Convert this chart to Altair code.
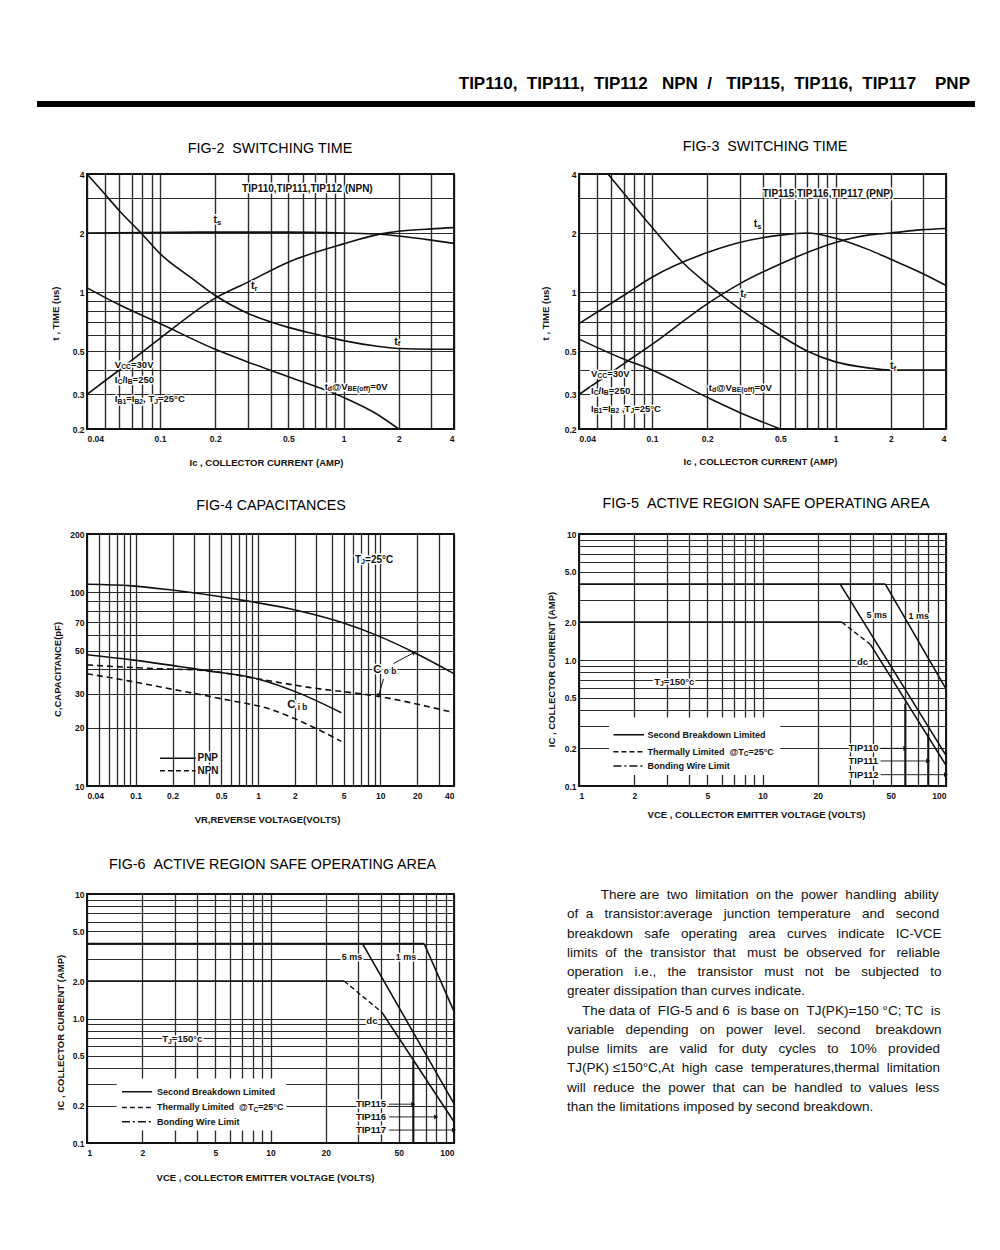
import altair as alt
import pandas as pd

FONT = "Liberation Sans"
INK = "#111111"
GRID = "#2a2a2a"
NB = "\u00a0"
ZW = "\u200b"
SUB = 0.72

W = 367
H1, H2, H3 = 255, 252, 249

# ---------------- texts ----------------
HEADER_TEXT = ("TIP110," + NB * 2 + "TIP111," + NB * 2 + "TIP112" + NB * 3 + "NPN" + NB * 2 + "/" + NB * 3 +
               "TIP115," + NB * 2 + "TIP116," + NB * 2 + "TIP117" + NB * 4 + "PNP")
F2_TITLE = "FIG-2" + NB * 2 + "SWITCHING" + NB + "TIME"
F3_TITLE = "FIG-3" + NB * 2 + "SWITCHING" + NB + "TIME"
F4_TITLE = "FIG-4 CAPACITANCES"
F5_TITLE = "FIG-5" + NB * 2 + "ACTIVE REGION SAFE OPERATING AREA"
F6_TITLE = "FIG-6" + NB * 2 + "ACTIVE REGION SAFE OPERATING AREA"

PARA = [
    "There are two limitation on the power handling ability",
    "of a transistor:average junction temperature and second",
    "breakdown safe operating area curves indicate IC-VCE",
    "limits of the transistor that must be observed for reliable",
    "operation i.e., the transistor must not be subjected to",
    "greater dissipation than curves indicate.",
    "The data of FIG-5 and 6 is base on TJ(PK)=150 °C; TC is",
    "variable depending on power level. second breakdown",
    "pulse limits are valid for duty cycles to 10% provided",
    "TJ(PK) ≤150°C,At high case temperatures,thermal limitation",
    "will reduce the power that can be handled to values less",
    "than the limitations imposed by second breakdown.",
]
PARA_INDENT = [9, 0, 0, 0, 0, 0, 4, 0, 0, 0, 0, 0]
PARA_JUSTIFY = [1, 1, 1, 1, 1, 0, 1, 1, 1, 1, 1, 0]

# ---------------- FIG-2 (NPN switching) ----------------
F2_TD_X = [0.04, 0.06, 0.1, 0.2, 0.3, 0.5, 1.0, 1.5, 2.0]
F2_TD_Y = [1.05, 0.86, 0.69, 0.51, 0.44, 0.37, 0.29, 0.24, 0.2]
F2_TF_X = [0.04, 0.05, 0.06, 0.08, 0.1, 0.15, 0.2, 0.3, 0.5, 0.7, 1.0, 1.5, 2.0, 3.0, 4.0]
F2_TF_Y = [4.0, 3.16, 2.6, 1.97, 1.57, 1.17, 0.96, 0.78, 0.66, 0.61, 0.565, 0.53, 0.515, 0.51, 0.51]
F2_TS_X = [0.04, 0.2, 0.5, 1.0, 1.6, 2.0, 3.0, 4.0]
F2_TS_Y = [2.0, 2.02, 2.02, 2.0, 1.97, 1.93, 1.84, 1.77]
F2_TR_X = [0.04, 0.06, 0.1, 0.2, 0.3, 0.5, 1.0, 1.6, 2.0, 3.0, 4.0]
F2_TR_Y = [0.3, 0.40, 0.58, 0.93, 1.12, 1.42, 1.76, 1.98, 2.04, 2.1, 2.13]

# ---------------- FIG-3 (PNP switching) ----------------
F3_TF_X = [0.0575, 0.07, 0.1, 0.15, 0.2, 0.3, 0.5, 0.7, 1.0, 1.5, 2.0, 3.0, 4.0]
F3_TF_Y = [4.0, 3.2, 2.14, 1.39, 1.1, 0.82, 0.6, 0.5, 0.44, 0.41, 0.40, 0.40, 0.40]
F3_TS_X = [0.04, 0.07, 0.1, 0.2, 0.3, 0.5, 0.7, 1.0, 1.5, 2.0, 3.0, 4.0]
F3_TS_Y = [0.69, 0.96, 1.19, 1.59, 1.79, 1.95, 2.0, 1.88, 1.65, 1.47, 1.24, 1.08]
F3_TR_X = [0.04, 0.07, 0.1, 0.2, 0.3, 0.5, 1.0, 1.5, 2.0, 3.0, 4.0]
F3_TR_Y = [0.3, 0.43, 0.54, 0.87, 1.1, 1.39, 1.79, 1.95, 2.0, 2.08, 2.11]
F3_TD_X = [0.04, 0.07, 0.1, 0.2, 0.3, 0.5]
F3_TD_Y = [0.575, 0.455, 0.40, 0.29, 0.243, 0.2]

SW_XGRID = [0.04, 0.05, 0.06, 0.07, 0.08, 0.09, 0.1, 0.2, 0.3, 0.4, 0.5, 0.6, 0.7, 0.8, 0.9, 1, 2, 3, 4]
SW_XLAB = {0.04: "0.04", 0.1: "0.1", 0.2: "0.2", 0.5: "0.5", 1: "1", 2: "2", 4: "4"}
SW_YGRID = [0.2, 0.3, 0.4, 0.5, 0.6, 0.7, 0.8, 0.9, 1, 2, 3, 4]
SW_YLAB = {0.2: "0.2", 0.3: "0.3", 0.5: "0.5", 1: "1", 2: "2", 4: "4"}

# ---------------- FIG-4 (capacitances) ----------------
F4_PNP_COB_X = [0.04, 0.093, 0.19, 0.67, 1.85, 4.8, 9.7, 18.9, 40]
F4_PNP_COB_Y = [110, 108, 103, 92, 82, 70, 59.4, 48.9, 38]
F4_PNP_CIB_X = [0.04, 0.093, 0.38, 0.98, 2.24, 4.8]
F4_PNP_CIB_Y = [47.6, 44.8, 39.4, 35.8, 29.9, 23.9]
F4_NPN_COB_X = [0.04, 0.127, 0.38, 0.98, 2.6, 9.7, 40]
F4_NPN_COB_Y = [42.2, 40.5, 39.4, 35.8, 32.3, 29.0, 23.9]
F4_NPN_CIB_X = [0.04, 0.087, 0.226, 0.518, 1.26, 2.89, 4.8]
F4_NPN_CIB_Y = [38.0, 34.9, 31.1, 28.1, 24.9, 20.0, 17.0]
F4_ARROW_X1 = [12.8, 10.6]
F4_ARROW_Y1 = [42.9, 35.7]
F4_ARROW_X2 = [18.9, 9.7]
F4_ARROW_Y2 = [48.9, 29.3]
F4_ARROW_ANG = [331, 107]
F4_LEG_X1 = [0.158, 0.158]
F4_LEG_X2 = [0.309, 0.309]
F4_LEG_Y = [13.9, 12.0]

F4_XGRID = [0.04, 0.05, 0.06, 0.07, 0.08, 0.09, 0.1, 0.2, 0.3, 0.4, 0.5, 0.6, 0.7, 0.8, 0.9,
            1, 2, 3, 4, 5, 6, 7, 8, 9, 10, 20, 30, 40]
F4_XLAB = {0.04: "0.04", 0.1: "0.1", 0.2: "0.2", 0.5: "0.5", 1: "1", 2: "2", 5: "5", 10: "10", 20: "20", 40: "40"}
F4_YGRID = [10, 20, 30, 40, 50, 60, 70, 80, 90, 100, 200]
F4_YLAB = {10: "10", 20: "20", 30: "30", 50: "50", 70: "70", 100: "100", 200: "200"}

# ---------------- FIG-5 (SOA, NPN) ----------------
F5_BW_X = [1, 46.7]
F5_BW_Y = [4.0, 4.0]
F5_5MS_X = [26.5, 100]
F5_5MS_Y = [4.0, 0.175]
F5_1MS_X = [46.7, 100]
F5_1MS_Y = [4.0, 0.59]
F5_DC1_X = [1, 27]
F5_DC1_Y = [2.0, 2.0]
F5_DCT_X = [27, 38.7]
F5_DCT_Y = [2.0, 1.33]
F5_DC2_X = [38.7, 100]
F5_DC2_Y = [1.33, 0.146]
F5_LIM_X = [60, 80]
F5_LIM_Y1 = [0.45, 0.26]
F5_LIM_Y2 = [0.1, 0.1]
F5_TIP_NAMES = ["TIP110", "TIP111", "TIP112"]
F5_TIP_Y = [0.199, 0.158, 0.123]
F5_TIP_X = 29.4
F5_ARR_X1 = [44, 44, 44]
F5_ARR_X2 = [60, 80, 100]
F5_LEG_Y = [0.255, 0.187, 0.144]
F5_MASK = ([1.46], [12.5], [0.35], [0.122])

# ---------------- FIG-6 (SOA, PNP) ----------------
F6_BW_X = [1, 68.7]
F6_BW_Y = [4.0, 4.0]
F6_5MS_X = [31.7, 100]
F6_5MS_Y = [4.0, 0.207]
F6_1MS_X = [68.7, 100]
F6_1MS_Y = [4.0, 1.14]
F6_DC1_X = [1, 25.2]
F6_DC1_Y = [2.0, 2.0]
F6_DCT_X = [25.2, 40.5]
F6_DCT_Y = [2.0, 1.12]
F6_DC2_X = [40.5, 100]
F6_DC2_Y = [1.12, 0.148]
F6_LIM_X = [60]
F6_LIM_Y1 = [0.46]
F6_LIM_Y2 = [0.1]
F6_TIP_NAMES = ["TIP115", "TIP116", "TIP117"]
F6_TIP_Y = [0.205, 0.162, 0.127]
F6_TIP_X = 29.2
F6_ARR_X1 = [44.2, 44.2, 44.2]
F6_ARR_X2 = [60, 80, 100]
F6_LEG_Y = [0.258, 0.193, 0.148]
F6_MASK = ([1.45], [12.2], [0.33], [0.126])

SOA_XGRID = [1, 2, 3, 4, 5, 6, 7, 8, 9, 10, 20, 30, 40, 50, 60, 70, 80, 90, 100]
SOA_XLAB = {1: "1", 2: "2", 5: "5", 10: "10", 20: "20", 50: "50", 100: "100"}
SOA_YGRID = [0.1, 0.2, 0.3, 0.4, 0.5, 0.6, 0.7, 0.8, 0.9, 1, 2, 3, 4, 5, 6, 7, 8, 9, 10]
SOA_YLAB = {0.1: "0.1", 0.2: "0.2", 0.5: "0.5", 1: "1.0", 2: "2.0", 5: "5.0", 10: "10"}
LEG_TEXTS = ["Second Breakdown Limited", "Thermally Limited" + NB * 2 + "@T", "Bonding Wire Limit"]

# ---------------- helpers ----------------
AW = {" ": 278, NB: 278, ZW: 0, "!": 278, "(": 333, ")": 333, ",": 278, "-": 333, ".": 278, "/": 278,
      ":": 278, ";": 278, "=": 584, "@": 1015, "%": 889, "°": 400, "≤": 549}
for _c in "0123456789":
    AW[_c] = 556
AW.update(dict(zip("ABCDEFGHIJKLMNOPQRSTUVWXYZ",
                   [667, 667, 722, 722, 667, 611, 778, 722, 278, 500, 667, 556, 833, 722, 778, 667,
                    778, 722, 667, 611, 722, 667, 944, 667, 667, 611])))
AW.update(dict(zip("abcdefghijklmnopqrstuvwxyz",
                   [556, 556, 500, 556, 556, 278, 556, 556, 222, 222, 500, 222, 833, 556, 556, 556,
                    556, 333, 500, 278, 556, 500, 722, 500, 500, 500])))
AWB = dict(AW)
AWB.update({":": 333, "@": 975})
AWB.update(dict(zip("ABCDEFGHIJKLMNOPQRSTUVWXYZ",
                    [722, 722, 722, 722, 667, 611, 778, 722, 278, 556, 722, 611, 833, 722, 778, 667,
                     778, 722, 667, 611, 722, 667, 944, 667, 667, 611])))
AWB.update(dict(zip("abcdefghijklmnopqrstuvwxyz",
                    [556, 611, 556, 611, 556, 333, 611, 611, 278, 278, 556, 278, 889, 611, 611, 611,
                     611, 389, 556, 333, 611, 556, 778, 556, 556, 500])))


def tw(s, fs, bold=False):
    table = AWB if bold else AW
    return sum(table.get(c, 556) for c in s) / 1000.0 * fs


def label_expr(d):
    return " : ".join(f"datum.value == {v} ? '{t}'" for v, t in d.items()) + " : ''"


def make_xy(xdom, xgrid, xlab, xtitle, xtx, xty, ydom, ygrid, ylab, ytitle, ytx, yty, xgw=1.3):
    common = dict(grid=True, ticks=False, domain=False, labelFont=FONT, labelFontSize=8.5,
                  labelFontWeight="bold", labelColor=INK, labelOverlap=False,
                  labelBound=False, gridColor=GRID, titleFont=FONT, titleFontSize=9.5,
                  titleFontWeight="bold", titleColor=INK, titleBaseline="middle", titleAlign="center")
    X = alt.X("x:Q", scale=alt.Scale(type="log", domain=xdom, nice=False),
              axis=alt.Axis(values=xgrid, labelExpr=label_expr(xlab), title=xtitle, titleX=xtx, titleY=xty,
                            labelPadding=5, gridWidth=xgw, labelFlush=True, **common))
    Y = alt.Y("y:Q", scale=alt.Scale(type="log", domain=ydom, nice=False),
              axis=alt.Axis(values=ygrid, labelExpr=label_expr(ylab), title=ytitle, titleX=ytx, titleY=yty,
                            titleAngle=270, labelPadding=3, gridWidth=1.1, labelFlush=False, **common))
    return X, Y


def curves(series, X, Y, dash=None, interp="monotone", width=1.6):
    rows = [{"x": x, "y": y, "s": name} for name, xs, ys in series for x, y in zip(xs, ys)]
    kw = dict(interpolate=interp, color=INK, strokeWidth=width)
    if dash:
        kw["strokeDash"] = dash
    return alt.Chart(pd.DataFrame(rows)).mark_line(**kw).encode(x=X, y=Y, detail="s:N")


def rules(x1, y1, x2, y2, X, Y, width=1.0, dash=None):
    kw = dict(color=INK, strokeWidth=width)
    if dash:
        kw["strokeDash"] = dash
    df = pd.DataFrame({"x": x1, "y": y1, "x2": x2, "y2": y2})
    return alt.Chart(df).mark_rule(**kw).encode(x=X, y=Y, x2="x2:Q", y2="y2:Q")


def mask(x1, x2, y1, y2, X, Y):
    df = pd.DataFrame({"x": x1, "x2": x2, "y": y1, "y2": y2})
    return alt.Chart(df).mark_rect(fill="white", stroke=None, opacity=1).encode(x=X, x2="x2:Q", y=Y, y2="y2:Q")


def heads(xs, ys, angs, X, Y):
    df = pd.DataFrame({"x": xs, "y": ys, "a": angs})
    return alt.Chart(df).mark_point(shape="triangle-right", filled=True, size=22, color=INK, opacity=1).encode(
        x=X, y=Y, angle=alt.Angle("a:Q", scale=None))


def rich(x0, y0, parts, fs, ppd, align):
    sizes = [fs * SUB if s else fs for _, s in parts]
    total = sum(tw(t, f, True) for (t, _), f in zip(parts, sizes))
    cum = -total / 2 if align == "center" else 0.0
    main, sub = [], []
    for (t, s), f in zip(parts, sizes):
        row = {"x": x0 * 10 ** (cum / ppd), "y": y0, "t": ZW + t, "size": f}
        (sub if s else main).append(row)
        cum += tw(t, f, True)
    return main, sub


def notes(items, X, Y, ppd):
    main, sub = [], []
    for x0, y0, parts, fs, align in items:
        m, s = rich(x0, y0, parts, fs, ppd, align)
        main += m
        sub += s
    specs = [(main, 0), (sub, 2.5)]
    layers = []
    for rows, dy in specs:
        if rows:
            layers.append(alt.Chart(pd.DataFrame(rows)).mark_text(
                align="left", baseline="middle", font=FONT, fontWeight="bold", dy=dy, fill="white",
                stroke="white", strokeWidth=3, strokeJoin="round").encode(
                x=X, y=Y, text="t:N", size=alt.Size("size:Q", scale=None)))
    for rows, dy in specs:
        if rows:
            layers.append(alt.Chart(pd.DataFrame(rows)).mark_text(
                align="left", baseline="middle", font=FONT, fontWeight="bold", dy=dy, fill=INK).encode(
                x=X, y=Y, text="t:N", size=alt.Size("size:Q", scale=None)))
    return layers


def frame(w, h):
    return alt.Chart(pd.DataFrame({"a": [0]})).mark_rect(filled=False, stroke=INK, strokeWidth=1.9).encode(
        x=alt.value(0), x2=alt.value(w), y=alt.value(0), y2=alt.value(h))


def fig_title(text, x, y):
    return alt.Chart(pd.DataFrame({"t": [text]})).mark_text(
        font=FONT, fontSize=14.3, color="#000000", align="center", baseline="middle").encode(
        x=alt.value(x), y=alt.value(y), text="t:N")


def justify(line, indent, fs, target, do):
    words = line.split(" ")
    gaps = len(words) - 1
    nat = tw(NB * indent, fs) + sum(tw(w, fs) for w in words) + gaps * tw(NB, fs)
    extra = max(0, int(round((target - nat) / tw(NB, fs)))) if do else 0
    out = ZW + NB * indent + words[0]
    for i in range(gaps):
        k = 1 + (extra * (i + 1)) // gaps - (extra * i) // gaps
        out += NB * k + words[i + 1]
    return out


# ---------------- FIG-2 ----------------
X2, Y2 = make_xy([0.04, 4], SW_XGRID, SW_XLAB, "Ic , COLLECTOR CURRENT (AMP)", 179, 33,
                 [0.2, 4], SW_YGRID, SW_YLAB, "t , TIME (us)", -32, 139, xgw=1.4)
PPD_SW = W / 2.0
f2_notes = [
    (0.28, 3.36, [("TIP110,TIP111,TIP112 (NPN)", 0)], 10, "left"),
    (0.205, 2.33, [("t", 0), ("s", 1)], 10.5, "center"),
    (0.326, 1.07, [("t", 0), ("r", 1)], 10.5, "center"),
    (1.96, 0.556, [("t", 0), ("f", 1)], 10.5, "center"),
    (0.0567, 0.425, [("V", 0), ("CC", 1), ("=30V", 0)], 9.5, "left"),
    (0.0567, 0.356, [("I", 0), ("C", 1), ("/I", 0), ("B", 1), ("=250", 0)], 9.5, "left"),
    (0.0567, 0.284, [("I", 0), ("B1", 1), ("=I", 0), ("B2", 1), ("," + NB + "T", 0), ("J", 1), ("=25°C", 0)], 9.5, "left"),
    (0.789, 0.328, [("t", 0), ("d", 1), ("@V", 0), ("BE(off)", 1), ("=0V", 0)], 9.5, "left"),
]
bar = alt.Chart(pd.DataFrame({"a": [0]})).mark_rect(color="#000000").encode(
    x=alt.value(-50), x2=alt.value(888), y=alt.value(-73), y2=alt.value(-67))
f2 = alt.layer(
    curves([("td", F2_TD_X, F2_TD_Y), ("tf", F2_TF_X, F2_TF_Y), ("ts", F2_TS_X, F2_TS_Y),
            ("tr", F2_TR_X, F2_TR_Y)], X2, Y2),
    *notes(f2_notes, X2, Y2, PPD_SW),
    fig_title(F2_TITLE, 183, -25),
    bar,
    frame(W, H1),
).properties(width=W, height=H1)

# ---------------- FIG-3 ----------------
X3, Y3 = make_xy([0.04, 4], SW_XGRID, SW_XLAB, "Ic , COLLECTOR CURRENT (AMP)", 181, 32,
                 [0.2, 4], SW_YGRID, SW_YLAB, "t , TIME (us)", -34, 139, xgw=1.4)
f3_notes = [
    (0.4, 3.16, [("TIP115,TIP116,TIP117 (PNP)", 0)], 10, "left"),
    (0.376, 2.22, [("t", 0), ("s", 1)], 10.5, "center"),
    (0.315, 0.98, [("t", 0), ("r", 1)], 10.5, "center"),
    (2.06, 0.419, [("t", 0), ("f", 1)], 10.5, "center"),
    (0.0465, 0.382, [("V", 0), ("CC", 1), ("=30V", 0)], 9.5, "left"),
    (0.0465, 0.313, [("I", 0), ("C", 1), ("/I", 0), ("B", 1), ("=250", 0)], 9.5, "left"),
    (0.0465, 0.253, [("I", 0), ("B1", 1), ("=I", 0), ("B2", 1), (NB + ",T", 0), ("J", 1), ("=25°C", 0)], 9.5, "left"),
    (0.204, 0.324, [("t", 0), ("d", 1), ("@V", 0), ("BE(off)", 1), ("=0V", 0)], 9.5, "left"),
]
header = alt.Chart(pd.DataFrame({"t": [HEADER_TEXT]})).mark_text(
    font=FONT, fontSize=17, fontWeight="bold", color="#000000", align="right", baseline="alphabetic").encode(
    x=alt.value(391), y=alt.value(-85), text="t:N")
f3 = alt.layer(
    curves([("td", F3_TD_X, F3_TD_Y), ("tf", F3_TF_X, F3_TF_Y), ("ts", F3_TS_X, F3_TS_Y),
            ("tr", F3_TR_X, F3_TR_Y)], X3, Y3),
    *notes(f3_notes, X3, Y3, PPD_SW),
    fig_title(F3_TITLE, 186, -27),
    header,
    frame(W, H1),
).properties(width=W, height=H1)

# ---------------- FIG-4 ----------------
X4, Y4 = make_xy([0.04, 40], F4_XGRID, F4_XLAB, "VR,REVERSE VOLTAGE(VOLTS)", 180, 33,
                 [10, 200], F4_YGRID, F4_YLAB, "C,CAPACITANCE(pF)", -30, 135)
PPD_F4 = W / 3.0
f4_notes = [
    (6.2, 147, [("T", 0), ("J", 1), ("=25°C", 0)], 10, "left"),
    (8.75, 39.8, [("C", 0), (NB + "o" + NB + "b", 1)], 11.5, "left"),
    (1.73, 26.1, [("C", 0), (NB + "i" + NB + "b", 1)], 11.5, "left"),
    (0.32, 13.9, [("PNP", 0)], 10, "left"),
    (0.32, 12.0, [("NPN", 0)], 10, "left"),
]
f4 = alt.layer(
    curves([("pcob", F4_PNP_COB_X, F4_PNP_COB_Y), ("pcib", F4_PNP_CIB_X, F4_PNP_CIB_Y)], X4, Y4),
    curves([("ncob", F4_NPN_COB_X, F4_NPN_COB_Y), ("ncib", F4_NPN_CIB_X, F4_NPN_CIB_Y)], X4, Y4, dash=[6, 4]),
    rules(F4_ARROW_X1, F4_ARROW_Y1, F4_ARROW_X2, F4_ARROW_Y2, X4, Y4, width=1.0),
    heads(F4_ARROW_X2, F4_ARROW_Y2, F4_ARROW_ANG, X4, Y4),
    *notes(f4_notes, X4, Y4, PPD_F4),
    rules(F4_LEG_X1[:1], F4_LEG_Y[:1], F4_LEG_X2[:1], F4_LEG_Y[:1], X4, Y4, width=1.5),
    rules(F4_LEG_X1[1:], F4_LEG_Y[1:], F4_LEG_X2[1:], F4_LEG_Y[1:], X4, Y4, width=1.5, dash=[5, 3]),
    fig_title(F4_TITLE, 184, -28),
    frame(W, H2),
).properties(width=W, height=H2)


# ---------------- FIG-5 / FIG-6 ----------------
def soa(title, ttl_x, ttl_y, H, xtx, xty, ytx, yty, bw, ms5, ms1, dc1, dct, dc2, lim, tipn, tipx, tipy,
        arrx1, arrx2, legy, ms5_pos, ms1_pos, dc_pos, tj_pos, legx1, legx2, legtx, msk):
    X, Y = make_xy([1, 100], SOA_XGRID, SOA_XLAB, "VCE , COLLECTOR EMITTER VOLTAGE (VOLTS)", xtx, xty,
                   [0.1, 10], SOA_YGRID, SOA_YLAB, "IC , COLLECTOR CURRENT (AMP)", ytx, yty)
    ppd = W / 2.0
    items = [
        (ms5_pos[0], ms5_pos[1], [("5 ms", 0)], 9, "center"),
        (ms1_pos[0], ms1_pos[1], [("1 ms", 0)], 9, "center"),
        (dc_pos[0], dc_pos[1], [("dc", 0)], 9.5, "center"),
        (tj_pos[0], tj_pos[1], [("T", 0), ("J", 1), ("=150°c", 0)], 9.5, "left"),
    ]
    for n, yv in zip(tipn, tipy):
        items.append((tipx, yv, [(n, 0)], 9.5, "left"))
    items.append((legtx, legy[0], [(LEG_TEXTS[0], 0)], 9, "left"))
    items.append((legtx, legy[1], [(LEG_TEXTS[1], 0), ("C", 1), ("=25°C", 0)], 9, "left"))
    items.append((legtx, legy[2], [(LEG_TEXTS[2], 0)], 9, "left"))
    layers = [
        mask(*msk, X, Y),
        curves([("bw", *bw), ("5ms", *ms5), ("1ms", *ms1), ("dc1", *dc1), ("dc2", *dc2)], X, Y,
               interp="linear", width=1.6),
        curves([("dct", *dct)], X, Y, dash=[5, 3], interp="linear", width=1.4),
        rules(lim[0], lim[1], lim[0], lim[2], X, Y, width=2.0),
        *notes(items, X, Y, ppd),
        rules(arrx1, tipy, arrx2, tipy, X, Y, width=0.9),
        heads(arrx2, tipy, [0] * len(arrx2), X, Y),
        rules([legx1], [legy[0]], [legx2], [legy[0]], X, Y, width=1.5),
        rules([legx1], [legy[1]], [legx2], [legy[1]], X, Y, width=1.5, dash=[5, 3]),
        rules([legx1], [legy[2]], [legx2], [legy[2]], X, Y, width=1.5, dash=[8, 3, 2, 3]),
        fig_title(title, ttl_x, ttl_y),
        frame(W, H),
    ]
    return alt.layer(*layers).properties(width=W, height=H)


f5 = soa(F5_TITLE, 187, -30, H2, 177, 28, -28, 135,
         (F5_BW_X, F5_BW_Y), (F5_5MS_X, F5_5MS_Y), (F5_1MS_X, F5_1MS_Y), (F5_DC1_X, F5_DC1_Y),
         (F5_DCT_X, F5_DCT_Y), (F5_DC2_X, F5_DC2_Y), (F5_LIM_X, F5_LIM_Y1, F5_LIM_Y2),
         F5_TIP_NAMES, F5_TIP_X, F5_TIP_Y, F5_ARR_X1, F5_ARR_X2, F5_LEG_Y,
         (41.9, 2.28), (71.1, 2.25), (35.1, 0.96), (2.57, 0.67), 1.54, 2.26, 2.36, F5_MASK)

f6 = soa(F6_TITLE, 185.5, -29, H3, 178, 34, -27, 138,
         (F6_BW_X, F6_BW_Y), (F6_5MS_X, F6_5MS_Y), (F6_1MS_X, F6_1MS_Y), (F6_DC1_X, F6_DC1_Y),
         (F6_DCT_X, F6_DCT_Y), (F6_DC2_X, F6_DC2_Y), (F6_LIM_X, F6_LIM_Y1, F6_LIM_Y2),
         F6_TIP_NAMES, F6_TIP_X, F6_TIP_Y, F6_ARR_X1, F6_ARR_X2, F6_LEG_Y,
         (27.8, 3.1), (54.7, 3.1), (35.7, 0.95), (2.57, 0.68), 1.55, 2.26, 2.41, F6_MASK)

# ---------------- paragraph ----------------
PARA_FS = 13.5
para_lines = [justify(l, ind, PARA_FS, 373, j) for l, ind, j in zip(PARA, PARA_INDENT, PARA_JUSTIFY)]
para_df = pd.DataFrame({"i": list(range(len(para_lines))), "t": para_lines})
para = alt.Chart(para_df).mark_text(align="left", baseline="middle", font=FONT, fontSize=PARA_FS,
                                    color=INK).encode(
    x=alt.value(-12),
    y=alt.Y("i:Q", scale=alt.Scale(domain=[0, 11], range=[1, 213]), axis=None),
    text="t:N",
).properties(width=W, height=H3)

chart = alt.concat(f2, f3, f4, f5, f6, para, columns=2, spacing={"row": 105, "column": 125},
                   bounds="flush", align="all").properties(
    padding={"left": 29, "top": 67, "right": 4, "bottom": 8}
).configure(font=FONT, background="white").configure_view(stroke=None)

chart.save("out.html", embed_options={"renderer": "svg", "actions": False})
